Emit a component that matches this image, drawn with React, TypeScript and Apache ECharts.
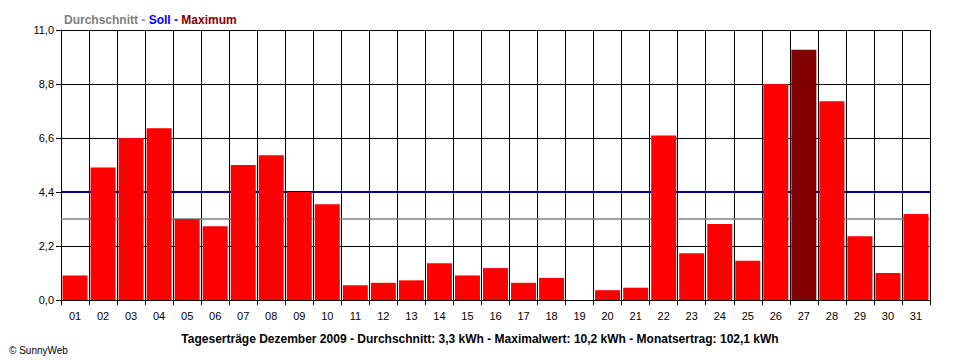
import React, { useEffect, useRef } from "react";
import * as echarts from "echarts";

const days = ["01","02","03","04","05","06","07","08","09","10","11","12","13","14","15","16","17","18","19","20","21","22","23","24","25","26","27","28","29","30","31"];
const yields = [1.0,5.4,6.6,7.0,3.3,3.0,5.5,5.9,4.4,3.9,0.6,0.7,0.8,1.5,1.0,1.3,0.7,0.9,0.0,0.4,0.5,6.7,1.9,3.1,1.6,8.8,10.2,8.1,2.6,1.1,3.5];
const average = 3.3;
const target = 4.4;
const yMax = 11;
const yStep = 2.2;
const titleText = "Tageserträge Dezember 2009 - Durchschnitt: 3,3 kWh - Maximalwert: 10,2 kWh - Monatsertrag: 102,1 kWh";
const copyright = "© SunnyWeb";

const FONT = "'Liberation Sans', Arial, sans-serif";

export default function App() {
  const ref = useRef<HTMLDivElement>(null);
  useEffect(() => {
    if (!ref.current) return;
    const chart = echarts.init(ref.current, null, { renderer: "svg" });
    const maxVal = Math.max(...yields);
    chart.setOption({
      animation: false,
      backgroundColor: "#ffffff",
      grid: { left: 61, right: 30, top: 30, bottom: 60, containLabel: false },
      title: [
        {
          text: "{g|Durchschnitt - }{b|Soll - }{r|Maximum}",
          left: 59,
          top: 9,
          textStyle: {
            rich: {
              g: { color: "#808080", fontWeight: "bold", fontSize: 12, fontFamily: FONT },
              b: { color: "#0000ff", fontWeight: "bold", fontSize: 12, fontFamily: FONT },
              r: { color: "#800000", fontWeight: "bold", fontSize: 12, fontFamily: FONT },
            },
          },
        },
        {
          text: titleText,
          left: "center",
          top: 328,
          textStyle: { color: "#000", fontWeight: "bold", fontSize: 12, fontFamily: FONT },
        },
        {
          text: copyright,
          left: 4,
          top: 340,
          textStyle: { color: "#000", fontWeight: "normal", fontSize: 10, fontFamily: FONT },
        },
      ],
      xAxis: [
        {
          type: "category",
          data: days,
          boundaryGap: true,
          axisLine: { show: true, lineStyle: { color: "#000", width: 1 } },
          axisTick: { show: true, interval: 0, length: 5, lineStyle: { color: "#000" } },
          axisLabel: { interval: 0, color: "#000", fontSize: 11, fontFamily: FONT, margin: 10 },
          splitLine: { show: true, interval: 0, lineStyle: { color: "#000", width: 1 } },
        },
        {
          type: "value",
          min: 0,
          max: 31,
          show: false,
        },
      ],
      yAxis: {
        type: "value",
        min: 0,
        max: yMax,
        interval: yStep,
        axisLine: { show: true, lineStyle: { color: "#000" } },
        axisTick: { show: true, length: 5, lineStyle: { color: "#000" } },
        axisLabel: {
          color: "#000",
          fontSize: 11,
          fontFamily: FONT,
          margin: 7,
          formatter: (v: number) => v.toFixed(1).replace(".", ","),
        },
        splitLine: { show: true, lineStyle: { color: "#000", width: 1 } },
      },
      series: [
        {
          type: "line",
          xAxisIndex: 1,
          data: [[0, average], [31, average]],
          symbol: "none",
          lineStyle: { color: "#808080", width: 1.5 },
          z: 1,
          silent: true,
        },
        {
          type: "line",
          xAxisIndex: 1,
          data: [[0, target], [31, target]],
          symbol: "none",
          lineStyle: { color: "#00008c", width: 2 },
          z: 1,
          silent: true,
        },
        {
          type: "bar",
          xAxisIndex: 0,
          barWidth: 25,
          z: 3,
          data: yields.map((v) => ({
            value: v,
            itemStyle: { color: v === maxVal ? "#800000" : "#ff0000" },
          })),
        },
      ],
    });
    return () => chart.dispose();
  }, []);
  return (
    <div
      ref={ref}
      style={{ position: "fixed", left: 0, top: 0, width: 960, height: 360 }}
    />
  );
}
